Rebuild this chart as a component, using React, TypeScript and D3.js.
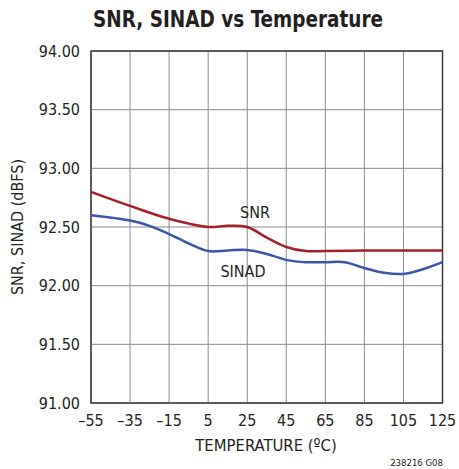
import React from "react";
import * as d3 from "d3";

const temps = [-55, -35, -15, 5, 15, 25, 35, 45, 55, 65, 85, 105, 125];
const snr = [92.8, 92.68, 92.57, 92.5, 92.51, 92.5, 92.41, 92.33, 92.295, 92.295, 92.3, 92.3, 92.3];

const sinadTemps = [-55, -35, -25, -15, -5, 5, 15, 25, 35, 45, 55, 65, 75, 85, 95, 105, 115, 125];
const sinad = [92.6, 92.555, 92.51, 92.44, 92.36, 92.295, 92.3, 92.305, 92.27, 92.22, 92.2, 92.2, 92.2, 92.15, 92.11, 92.1, 92.14, 92.2];

const xTicks = [-55, -35, -15, 5, 25, 45, 65, 85, 105, 125];
const yTicks = [91, 91.5, 92, 92.5, 93, 93.5, 94];

const W = 459;
const H = 469;
const margin = { top: 51, right: 16.5, bottom: 66, left: 91 };
const font = "'Liberation Sans Narrow', 'DejaVu Sans Condensed', Arial, sans-serif";

const App = () => {
  const x = d3.scaleLinear().domain([-55, 125]).range([margin.left, W - margin.right]);
  const y = d3.scaleLinear().domain([91, 94]).range([H - margin.bottom, margin.top]);

  const line = d3
    .line<[number, number]>()
    .x((d) => x(d[0]))
    .y((d) => y(d[1]))
    .curve(d3.curveCatmullRom.alpha(0.5));

  const snrPath = line(temps.map((t, i) => [t, snr[i]]));
  const sinadPath = line(sinadTemps.map((t, i) => [t, sinad[i]]));

  return (
    <svg
      width={W}
      height={H}
      style={{ position: "fixed", left: 0, top: 0, background: "#fff" }}
      fontFamily={font}
    >
      <text
        x={238}
        y={27}
        textAnchor="middle"
        fontSize={23}
        fontWeight="bold"
        fill="#231f20"
        textLength={290}
        lengthAdjust="spacingAndGlyphs"
      >
        SNR, SINAD vs Temperature
      </text>

      {/* grid */}
      {xTicks.map((t) => (
        <line key={"gx" + t} x1={x(t)} x2={x(t)} y1={y(91)} y2={y(94)} stroke="#8a8a8a" strokeWidth={1} />
      ))}
      {yTicks.map((t) => (
        <line key={"gy" + t} x1={x(-55)} x2={x(125)} y1={y(t)} y2={y(t)} stroke="#8a8a8a" strokeWidth={1} />
      ))}
      <rect
        x={x(-55)}
        y={y(94)}
        width={x(125) - x(-55)}
        height={y(91) - y(94)}
        fill="none"
        stroke="#3a3a3a"
        strokeWidth={1.5}
      />

      {/* curves */}
      <path d={sinadPath || ""} fill="none" stroke="#3b56a8" strokeWidth={2.5} />
      <path d={snrPath || ""} fill="none" stroke="#a3212a" strokeWidth={2.5} />

      <text x={255} y={217.5} textAnchor="middle" fontSize={16} fill="#231f20">SNR</text>
      <text x={243} y={276.5} textAnchor="middle" fontSize={16} fill="#231f20">SINAD</text>

      {/* y ticks */}
      {yTicks.map((t) => (
        <text key={"ty" + t} x={80} y={y(t) + 5.5} textAnchor="end" fontSize={16} fill="#231f20">
          {t.toFixed(2)}
        </text>
      ))}
      {/* x ticks */}
      {xTicks.map((t) => (
        <text key={"tx" + t} x={x(t)} y={426} textAnchor="middle" fontSize={16} fill="#231f20">
          {t < 0 ? "\u2013" + Math.abs(t) : String(t)}
        </text>
      ))}

      <text x={266} y={451} textAnchor="middle" fontSize={16.5} fill="#231f20">
        TEMPERATURE (ºC)
      </text>
      <text
        transform={`translate(23, ${y(92.5)}) rotate(-90)`}
        textAnchor="middle"
        fontSize={16}
        fill="#231f20"
      >
        SNR, SINAD (dBFS)
      </text>
      <text x={443} y={466} textAnchor="end" fontSize={9.5} fill="#231f20">
        238216 G08
      </text>
    </svg>
  );
};

export default App;
